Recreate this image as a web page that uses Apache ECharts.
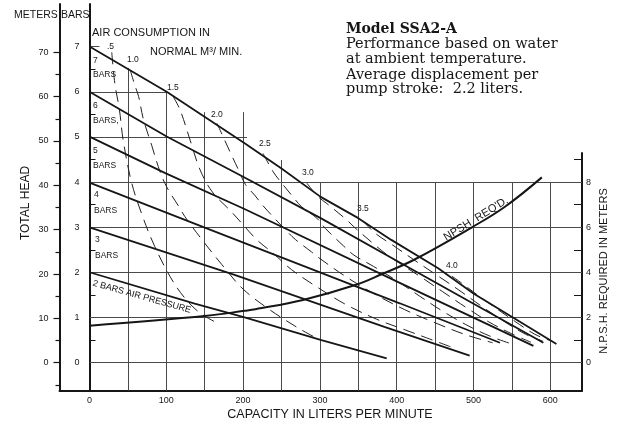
<!DOCTYPE html>
<html>
<head>
<meta charset="utf-8">
<script src="https://cdn.jsdelivr.net/npm/echarts@6/dist/echarts.min.js"></script>
<style>
html, body { margin: 0; padding: 0; background: #fff; }
#main { width: 619px; height: 424px; }
</style>
</head>
<body>
<div id="main"></div>
<script>
var myChart = echarts.init(document.getElementById('main'));

// axis ranges, picked so the printed axes land where they are on the sheet
var capMin = -39.06, capMax = 641.3;      // liters per minute
var headMin = -6.315, headMax = 80.9;     // meters
var barMin = -0.62, barMax = 7.946;       // bars (1 bar = 10.18 m)
var npshMin = -1.24, npshMax = 9.29;      // meters NPSH

// tick labels
var capTicks = [0, 100, 200, 300, 400, 500, 600];
var headTicks = [0, 10, 20, 30, 40, 50, 60, 70];
var headMinor = [-5, 5, 15, 25, 35, 45, 55, 65];
var barTicks = [0, 1, 2, 3, 4, 5, 6, 7];
var barMinor = [0.5, 1.5, 2.5, 3.5, 4.5, 5.5, 6.5];
var npshTicks = [0, 2, 4, 6, 8];
var npshMinor = [1, 3, 5, 7, 9];

// printed grid: vertical lines (capacity, top in bars), horizontal lines (bars, right end in l/min)
var gridCols = [50, 100, 150, 200, 250, 300, 350, 400, 450, 500, 550, 600];
var gridColTop = [6.53, 6.0, 5.55, 5.55, 4.49, 4, 4, 4, 4, 4, 4, 4];
var gridRows = [0, 1, 2, 3, 4, 5, 6, 7];
var gridRowEnd = [capMax, capMax, capMax, capMax, capMax, 205, 100, 13];

// air pressure lines, [capacity l/min, total head m]
var bar7 = [[0, 71.3], [100.5, 61.1], [202, 49.5], [250, 43.8], [301, 37.4], [350, 32.6], [393, 27.7], [454, 21.3], [500, 15.6], [608, 4.2]];
var bar6 = [[0, 61.1], [100.5, 51.0], [202.5, 41.7], [301, 32.6], [404, 22.6], [591, 4.5]];
var bar5 = [[0, 51.0], [98, 42.8], [202.5, 34.6], [404, 18.0], [578, 3.8]];
var bar4 = [[0, 40.6], [152.6, 30.3], [404, 13.4], [534.5, 4.5]];
var bar3 = [[0, 30.5], [187, 19.9], [384, 8.1], [495, 1.6]];
var bar2 = [[0, 20.4], [137, 13.3], [202, 10.2], [302, 5.1], [387, 1.0]];

// air consumption, normal m3/min
var air05 = [[29, 70], [33, 63], [39, 57], [44, 50], [55, 40.5], [70, 32.6], [85, 26.2], [105, 19.4], [124, 14.6], [144, 11.2], [167, 8.9]];
var air10 = [[53, 66], [59, 62.6], [64, 60], [70, 55], [81, 49], [92, 43], [101, 39.5], [116, 35.3], [124, 33], [144, 28.3], [172, 22.2], [200, 16.6], [235, 11.9], [272, 7.8], [296, 5.5]];
var air15 = [[109, 60], [118, 57], [131, 50.2], [144, 43.5], [160, 38.5], [185, 34], [198, 31.5], [218, 27.7], [239, 24.7], [263, 21], [296, 17.1], [333, 13.2], [374, 9.8], [411, 7.4], [439, 5.6], [470, 3.6]];
var air20 = [[166, 54], [176, 50.2], [185, 46.8], [194, 43.5], [203, 40.2], [215, 37.8], [226, 35.4], [237, 33.3], [255, 30], [268, 27.8], [289, 25], [296, 24], [333, 19.5], [370, 15.6], [410, 12], [450, 9], [490, 6.3], [525, 4.5]];
var air25 = [[226, 47.2], [239, 43.1], [248, 41], [265, 37.4], [276, 35.2], [296, 32.6], [307, 30.3], [331, 26.3], [344, 24.3], [370, 21.7], [400, 18.5], [430, 15], [460, 11.6], [490, 8.6], [520, 6.1], [550, 4.2]];
var air30 = [[283, 40.5], [298, 37.4], [309, 35.9], [335, 32.2], [344, 30.7], [374, 26.2], [391, 23.9], [404, 22.4], [430, 19.5], [460, 16], [490, 12.5], [520, 9.2], [550, 6.5], [575, 4.6]];
var air35 = [[356, 32], [372, 29.2], [395, 26.5], [420, 23.5], [450, 20], [480, 16.5], [510, 12.8], [540, 9.3], [568, 6.4], [590, 4.9]];
var air40 = [[472, 19.5], [485, 17.9], [505, 15.3], [530, 12.2], [555, 9.2], [580, 6.4], [600, 5]];

// NPSH required, [capacity l/min, m]
var npsh = [[0, 1.64], [153, 2.08], [202, 2.30], [216, 2.37], [278, 2.78], [346, 3.44], [381, 3.93], [422, 4.55], [498, 6.0], [541, 6.91], [589, 8.21]];

var ink = '#161616';
var sans = 'Liberation Sans';
var serif = 'DejaVu Serif';

var gridSegs = [];
gridCols.forEach(function (c, i) {
    gridSegs.push({ coords: [[c, barMin], [c, gridColTop[i]]] });
});
gridRows.forEach(function (r, i) {
    gridSegs.push({ coords: [[0, r], [gridRowEnd[i], r]] });
});

function pressureLine(d) {
    return {
        type: 'line', xAxisIndex: 0, yAxisIndex: 0, data: d,
        symbol: 'none', silent: true, z: 5,
        lineStyle: { color: ink, width: 1.8 }
    };
}
function airLine(d) {
    return {
        type: 'line', xAxisIndex: 0, yAxisIndex: 0, data: d,
        symbol: 'none', silent: true, smooth: 0.35, z: 4,
        lineStyle: { color: '#222', width: 1, type: [12, 7] }
    };
}

function txt(x, y, s, size, extra) {
    var st = { text: s, fill: ink, fontSize: size, fontFamily: sans, textVerticalAlign: 'middle' };
    var el = { type: 'text', x: x, y: y, style: st, z: 20 };
    if (extra) {
        for (var k in extra) {
            if (k === 'rotation') el.rotation = extra[k];
            else st[k] = extra[k];
        }
    }
    return el;
}

var option = {
    animation: false,
    backgroundColor: '#fff',
    grid: [
        { left: 59.5, right: 37, top: 4, bottom: 33.3, containLabel: false, outerBoundsMode: 'none' },
        { left: 59.5, right: 37, top: 153, bottom: 33.3, containLabel: false, outerBoundsMode: 'none' }
    ],
    xAxis: [
        {
            type: 'value', gridIndex: 0, min: capMin, max: capMax,
            axisLine: { show: true, onZero: false, lineStyle: { color: ink, width: 2 } },
            axisTick: { show: false },
            splitLine: { show: false },
            axisLabel: { customValues: capTicks, fontSize: 9, color: ink, margin: 5, fontFamily: sans }
        },
        {
            type: 'value', gridIndex: 1, min: capMin, max: capMax, show: false,
            axisLine: { onZero: false }
        }
    ],
    yAxis: [
        {   // total head, meters
            type: 'value', gridIndex: 0, position: 'left', min: headMin, max: headMax,
            axisLine: { show: true, onZero: false, lineStyle: { color: ink, width: 2 } },
            axisTick: { show: true, customValues: headTicks, length: 6, lineStyle: { color: ink, width: 1.2 } },
            splitLine: { show: false },
            axisLabel: { customValues: headTicks, fontSize: 9, color: ink, margin: 11, fontFamily: sans }
        },
        {   // 5 m minor ticks
            type: 'value', gridIndex: 0, position: 'left', min: headMin, max: headMax,
            axisLine: { show: false, onZero: false },
            axisTick: { show: true, customValues: headMinor, length: 4, lineStyle: { color: ink, width: 1.2 } },
            splitLine: { show: false },
            axisLabel: { show: false }
        },
        {   // bars
            type: 'value', gridIndex: 0, position: 'left', offset: -30, min: barMin, max: barMax,
            axisLine: { show: true, onZero: false, lineStyle: { color: ink, width: 2 } },
            axisTick: { show: true, inside: true, customValues: barMinor, length: 6, lineStyle: { color: ink, width: 1 } },
            splitLine: { show: false },
            axisLabel: { customValues: barTicks, fontSize: 9, color: ink, margin: 10, fontFamily: sans }
        },
        {   // NPSH required
            type: 'value', gridIndex: 1, position: 'right', min: npshMin, max: npshMax,
            axisLine: { show: true, onZero: false, lineStyle: { color: ink, width: 2 } },
            axisTick: { show: true, inside: true, customValues: npshMinor, length: 8, lineStyle: { color: ink, width: 1 } },
            splitLine: { show: false },
            axisLabel: { customValues: npshTicks, fontSize: 9, color: ink, margin: 4, fontFamily: sans }
        }
    ],
    series: [
        {
            type: 'lines', coordinateSystem: 'cartesian2d', xAxisIndex: 0, yAxisIndex: 2,
            data: gridSegs, silent: true, z: 2,
            lineStyle: { color: '#4a4a4a', width: 1, opacity: 1 }
        },
        pressureLine(bar7), pressureLine(bar6), pressureLine(bar5),
        pressureLine(bar4), pressureLine(bar3), pressureLine(bar2),
        airLine(air05), airLine(air10), airLine(air15), airLine(air20),
        airLine(air25), airLine(air30), airLine(air35), airLine(air40),
        {
            type: 'line', xAxisIndex: 1, yAxisIndex: 3, data: npsh,
            symbol: 'none', silent: true, smooth: 0.4, z: 6,
            lineStyle: { color: ink, width: 2 }
        }
    ],
    graphic: [
        txt(14, 15, 'METERS', 10.5),
        txt(61, 15, 'BARS', 10.5),
        txt(92, 33, 'AIR CONSUMPTION IN', 11),
        txt(150, 52, 'NORMAL M³/ MIN.', 11),
        txt(26, 203, 'TOTAL HEAD', 12, { textAlign: 'center', rotation: Math.PI / 2 }),
        txt(330, 415, 'CAPACITY IN LITERS PER MINUTE', 12.5, { textAlign: 'center' }),
        txt(604, 271, 'N.P.S.H. REQUIRED IN METERS', 11, { textAlign: 'center', rotation: Math.PI / 2 }),
        // bar labels beside the bars axis
        txt(93, 61, '7', 8.5), txt(93, 75, 'BARS', 8.5),
        txt(93, 106, '6', 8.5), txt(93, 121, 'BARS,', 8.5),
        txt(93, 151, '5', 8.5), txt(93, 166, 'BARS', 8.5),
        txt(94, 195, '4', 8.5), txt(94, 211, 'BARS', 8.5),
        txt(95, 240, '3', 8.5), txt(95, 256, 'BARS', 8.5),
        txt(93, 283, '2 BARS AIR PRESSURE', 9, { rotation: -0.275 }),
        // air consumption labels
        txt(107, 47, '.5', 8.5), txt(127, 60, '1.0', 8.5), txt(167, 88, '1.5', 8.5),
        txt(211, 115, '2.0', 8.5), txt(259, 144, '2.5', 8.5), txt(302, 173, '3.0', 8.5),
        txt(357, 209, '3.5', 8.5), txt(446, 266, '4.0', 8.5),
        txt(476, 219, "NPSH  REQ'D.", 11, { textAlign: 'center', rotation: 0.555 }),
        // note block
        txt(346, 29, 'Model SSA2-A', 14, { fontFamily: serif, fontWeight: 'bold' }),
        txt(346, 44, 'Performance based on water', 14.5, { fontFamily: serif }),
        txt(346, 59, 'at ambient temperature.', 14.5, { fontFamily: serif }),
        txt(346, 75, 'Average displacement per', 14.5, { fontFamily: serif }),
        txt(346, 89, 'pump stroke:  2.2 liters.', 14.5, { fontFamily: serif })
    ]
};

myChart.setOption(option);
</script>
</body>
</html>
